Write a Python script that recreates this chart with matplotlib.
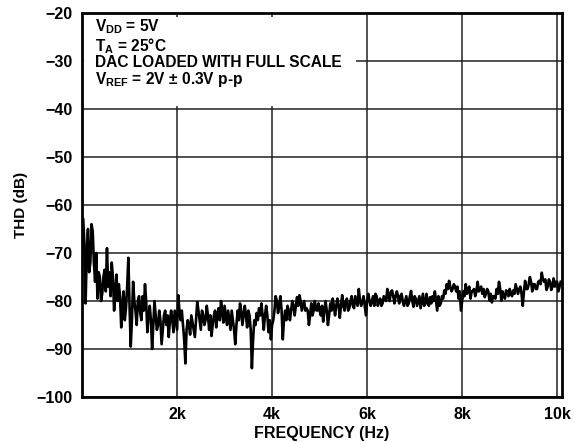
import numpy as np
import matplotlib
matplotlib.use("Agg")
import matplotlib.pyplot as plt
from matplotlib.patches import Rectangle

plt.rcParams['font.family'] = ['Liberation Sans', 'DejaVu Sans']
plt.rcParams['font.weight'] = 'bold'
plt.rcParams['mathtext.fontset'] = 'custom'
plt.rcParams['mathtext.rm'] = 'Liberation Sans:bold'
plt.rcParams['mathtext.bf'] = 'Liberation Sans:bold'
plt.rcParams['mathtext.default'] = 'rm'

# THD (dB) sampled every 50 Hz, starting at 25 Hz
thd = [
    -63, -80.5, -65, -72, -65.5, -76, -79.5, -75, -78.5, -73.5,
    -69, -74, -72, -82, -74.5, -76.5, -85.5, -78, -81.5, -71,
    -89.5, -76, -82, -80, -82.5, -79, -76.5, -86.5, -81, -90,
    -80, -86, -82, -89, -83, -85, -87.5, -82, -86.5, -84,
    -78.8, -84, -85, -93, -84, -87, -84.5, -87.5, -80.2, -84,
    -82, -85, -81, -86, -87.3, -83, -85.5, -81.5, -80, -84.5,
    -83, -82, -86, -84, -89, -82, -80.5, -85, -81, -85.5,
    -83, -94, -84, -82.5, -81.5, -80.5, -86, -81, -86.5, -88,
    -84, -79, -82.5, -79, -88, -82, -81, -84, -80, -83,
    -79.2, -78.8, -82, -80, -81.5, -85, -80.5, -82, -81.9, -80.5,
    -83, -84.3, -80, -85, -80.5, -79.5, -83, -79.5, -83.5, -78.8,
    -82, -79.5, -81.5, -79, -81.5, -80, -77.5, -81, -79, -83,
    -78.5, -81, -79, -78.5, -81, -79.5, -80.5, -79.5, -77.5, -80,
    -77.8, -80.5, -78, -80.5, -78.5, -81, -79, -80.5, -77.9, -81.2,
    -79.5, -80, -81.5, -78.5, -80.5, -80.5, -79.2, -79, -78, -82,
    -81, -79, -77.8, -76.5, -75.8, -78, -76.5, -78, -79.5, -82,
    -78, -76.5, -77.5, -79.5, -77.9, -79, -76, -77.5, -78.5, -79.2,
    -77.5, -79.9, -80.3, -79, -77.5, -76, -79.9, -79, -77.8, -79,
    -78.5, -77.8, -76.5, -78.5, -77, -81, -75.8, -77.5, -75, -78,
    -76.5, -77.5, -75.8, -74.1, -76, -77.7, -75.5, -77.7, -75.3, -76,
    -78, -76,
]
# THD (dB) read between the samples above (at 50, 100, ... Hz)
thd_mid = [
    -68, -70, -74, -64, -72, -70, -74, -80, -75, -78,
    -77, -79, -75, -78, -80, -79, -81, -84, -77, -81,
    -84, -80, -85, -79, -84, -82, -80, -83, -84, -85,
    -83, -85, -84, -86, -82, -83, -84, -84, -82, -86,
    -82, -82, -88, -86, -85, -83, -86, -84, -82, -86,
    -83, -84, -83, -83, -85, -82, -83, -84, -82, -81,
    -85, -84, -82, -86, -85, -84, -82, -83, -83, -82,
    -86, -88, -85, -84, -83, -83, -83, -83, -84, -85,
    -82, -80, -81, -82, -84, -84, -82, -82, -81, -81,
    -81, -80, -81, -82, -82, -83, -83, -80, -82, -82,
    -81, -82, -82, -83, -82, -81, -81, -81, -81, -81,
    -80, -82, -80, -81, -79, -81, -80, -80, -81, -80,
    -80, -80, -81, -79, -80, -81, -79, -80, -79, -78,
    -79, -79, -79, -79, -80, -80, -81, -79, -80, -79,
    -81, -79, -80, -81, -78.5, -81, -80.5, -80, -80, -79,
    -80.5, -79.5, -78.5, -77.5, -77, -77.5, -77, -77, -78, -80,
    -79, -78.5, -77, -78, -77.5, -78, -78, -77, -77.5, -78.5,
    -78, -78.5, -79, -79.5, -78.5, -77.5, -78, -79.5, -78, -77.5,
    -79, -78.5, -77.5, -77.5, -78.5, -78, -77.5, -76.5, -76, -76.5,
    -77.5, -76, -76.5, -75.5, -75.5, -77, -76, -77, -77, -76,
    -77,
]
freq_start = 25
freq_step = 50

f_main = freq_start + freq_step * np.arange(len(thd))
f_mid = f_main[:-1] + freq_step / 2
freq = np.empty(len(thd) + len(thd_mid))
vals = np.empty_like(freq)
freq[0::2] = f_main
freq[1::2] = f_mid
vals[0::2] = thd
vals[1::2] = thd_mid

x_ticks = [2000, 4000, 6000, 8000, 10000]
x_labels = ['2k', '4k', '6k', '8k', '10k']
y_ticks = [-20, -30, -40, -50, -60, -70, -80, -90, -100]
y_labels = ['\u221220', '\u221230', '\u221240', '\u221250', '\u221260',
            '\u221270', '\u221280', '\u221290', '\u2212100']

fig = plt.figure(figsize=(5.74, 4.42), dpi=100)
ax = fig.add_axes([0.1429, 0.1018, 0.979 - 0.1429, 0.9706 - 0.1018])

ax.set_xlim(0, 10100)
ax.set_ylim(-100, -20)
ax.set_xticks(x_ticks)
ax.set_xticklabels(x_labels)
ax.set_yticks(y_ticks)
ax.set_yticklabels(y_labels)
ax.tick_params(length=0, labelsize=11.5, pad=7)
for lab in ax.get_xticklabels() + ax.get_yticklabels():
    lab.set_fontweight('bold')

ax.grid(True, color='#222222', linewidth=1.1, zorder=1)
ax.set_axisbelow(True)

for s in ax.spines.values():
    s.set_linewidth(2)
    s.set_color('black')

ax.plot(freq, vals, color='black', linewidth=1.9, zorder=4)

ax.add_patch(Rectangle((0.004, 0.758), 0.567, 0.232, transform=ax.transAxes,
                       facecolor='white', edgecolor='none', zorder=2))

txt = [r"V$_{DD}$ = 5V", r"T$_{A}$ = 25°C", "DAC LOADED WITH FULL SCALE",
       r"V$_{REF}$ = 2V ± 0.3V p-p"]
ax.text(0.027, 0.895, "\n".join(txt), transform=ax.transAxes, fontsize=11.2,
        fontweight='bold', va='center', ha='left', linespacing=0.98, zorder=3)

ax.set_xlabel('FREQUENCY (Hz)', fontsize=11.5, fontweight='bold', labelpad=3)
ax.set_ylabel('THD (dB)', fontsize=11, fontweight='bold', labelpad=6)

fig.savefig('out.png', dpi=100)
